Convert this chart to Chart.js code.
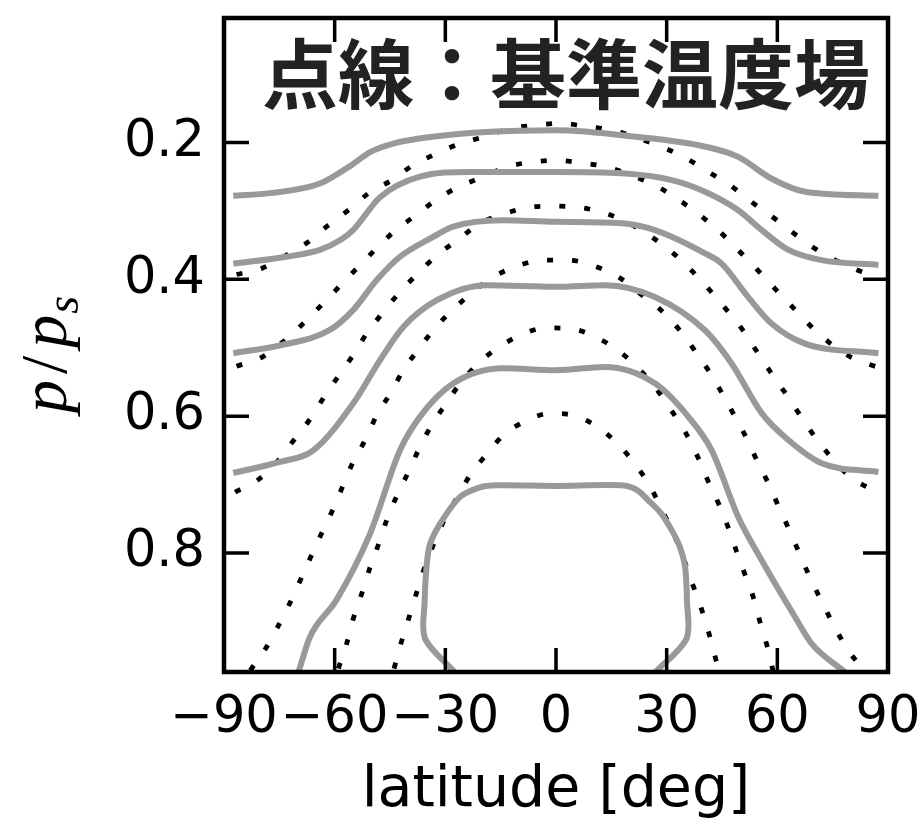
<!DOCTYPE html>
<html>
<head>
<meta charset="utf-8">
<script src="https://cdn.jsdelivr.net/npm/chart.js@4"></script>
<style>
  body { margin: 0; background: #fff; }
</style>
</head>
<body>
<canvas id="contour" width="924" height="824"></canvas>
<script>
// [latitude, p/ps] along each contour
var solid1 = [[-87.5,0.278],[-77.5,0.274],[-64,0.26],[-54.9,0.231],[-50.4,0.214],[-44.1,0.2015],[-32.3,0.191],[-18.9,0.1845],[0,0.182],[22.3,0.192],[40.4,0.206],[49.4,0.221],[58.5,0.253],[67.5,0.272],[87.4,0.278]];
var solid2 = [[-87.5,0.377],[-73.1,0.367],[-64,0.357],[-58.6,0.343],[-55,0.328],[-47.7,0.28],[-36.9,0.25],[-23.3,0.243],[0,0.243],[17.8,0.245],[31.4,0.255],[40.4,0.272],[49.4,0.299],[55.8,0.328],[63,0.357],[72,0.372],[87.4,0.379]];
var solid3 = [[-87.5,0.508],[-74.8,0.4965],[-61.3,0.474],[-55,0.445],[-48.6,0.401],[-42.3,0.367],[-33.3,0.338],[-27.9,0.323],[-14.4,0.3136],[0,0.316],[17.8,0.318],[26.8,0.328],[40.4,0.362],[44.9,0.377],[52.1,0.426],[58.5,0.465],[67.5,0.494],[87.4,0.508]];
var solid4 = [[-87.5,0.683],[-74.8,0.667],[-65.8,0.65],[-55,0.5816],[-47.7,0.518],[-41.4,0.4696],[-32.3,0.4305],[-18.8,0.4086],[0,0.411],[13.3,0.4085],[26.8,0.4257],[40.4,0.4745],[47.6,0.523],[55.8,0.596],[63,0.635],[72,0.669],[87.4,0.6816]];
var solid5 = [[-69.8,0.974],[-66.7,0.9228],[-59.5,0.8686],[-50.4,0.7716],[-42.3,0.6498],[-36.9,0.601],[-27.8,0.552],[-14.3,0.53],[0,0.533],[13.3,0.528],[26.8,0.552],[35.9,0.601],[42.2,0.65],[49.4,0.7474],[55.8,0.811],[64.8,0.8936],[69.3,0.9325],[78.3,0.974]];
var solid6 = [[-27.5,0.974],[-35.5,0.925],[-35.6,0.87],[-35.1,0.8205],[-34.2,0.788],[-31.4,0.757],[-26,0.718],[-20.6,0.704],[-16.1,0.701],[0,0.702],[17.8,0.701],[22,0.708],[25,0.723],[28.5,0.742],[31.4,0.767],[33.5,0.79],[35,0.8205],[35.5,0.87],[35.4,0.925],[27,0.974]];

var dot1 = [[-86.6,0.393],[-79.8,0.384],[-73.5,0.366],[-67.6,0.347],[-62.2,0.323],[-56.3,0.299],[-50.9,0.2746],[-44.5,0.255],[-38.7,0.233],[-32.3,0.216],[-26,0.2015],[-19.7,0.192],[-12.5,0.1795],[-5.2,0.1747],[1.1,0.172],[8.8,0.177],[15.5,0.182],[22.3,0.194],[28.7,0.2064],[35.4,0.2234],[41.3,0.243],[47.2,0.2624],[53,0.2868],[58.9,0.3096],[64.3,0.332],[70.2,0.355],[76.5,0.374],[82.9,0.389],[87.3,0.395]];
var dot2 = [[-86.6,0.527],[-79.8,0.514],[-74.4,0.493],[-69,0.467],[-64,0.44],[-59,0.412],[-54,0.384],[-49.1,0.357],[-44.1,0.331],[-38.7,0.309],[-32.8,0.285],[-26.5,0.265],[-19.7,0.25],[-13.4,0.2357],[-6.2,0.2284],[0,0.226],[7,0.2298],[13.7,0.2357],[21.4,0.25],[27.7,0.265],[33.6,0.285],[39,0.306],[44.5,0.331],[49.9,0.36],[54.7,0.3867],[59.6,0.415],[64.4,0.442],[69.3,0.4696],[74.7,0.495],[80.6,0.5158],[86.9,0.528]];
var dot3 = [[-87,0.711],[-80.7,0.6927],[-75.3,0.6645],[-71.2,0.636],[-66.9,0.606],[-63.1,0.574],[-59,0.5417],[-55,0.511],[-51.3,0.479],[-46.8,0.4477],[-42.3,0.4184],[-37.3,0.3906],[-32.3,0.3648],[-26.5,0.3418],[-20.6,0.318],[-14.3,0.305],[-7.9,0.295],[-0.7,0.293],[6.5,0.295],[13.7,0.304],[19.8,0.318],[25.9,0.338],[31.8,0.362],[36.9,0.388],[41.7,0.416],[46.3,0.445],[50.8,0.4754],[54.7,0.5076],[58.6,0.539],[62.7,0.5705],[66.6,0.602],[70.7,0.634],[74.9,0.662],[80,0.69],[86.3,0.709]];
var dot4 = [[-82.9,0.9715],[-79.1,0.943],[-75.6,0.9096],[-72.3,0.875],[-69.4,0.841],[-66.5,0.806],[-63.5,0.7707],[-60.5,0.7366],[-57.7,0.701],[-55,0.667],[-51.5,0.6327],[-48.6,0.5987],[-44.8,0.566],[-41.4,0.5329],[-37.1,0.501],[-32.8,0.471],[-27.8,0.4437],[-22.5,0.418],[-17,0.3965],[-10.7,0.381],[-3.4,0.372],[3.3,0.372],[10.6,0.381],[16.9,0.3965],[22.8,0.421],[28.2,0.4437],[33,0.471],[37.2,0.501],[41.3,0.5329],[44.9,0.5655],[48.3,0.5987],[51.7,0.6327],[54.4,0.664],[57.8,0.701],[60.7,0.7366],[63.6,0.7707],[66.4,0.806],[69.3,0.841],[72.4,0.875],[75.6,0.909],[79.2,0.9423],[83.3,0.97]];
var dot5 = [[-59,0.969],[-56.8,0.9335],[-55,0.8969],[-52.7,0.86],[-50.6,0.824],[-48.2,0.7887],[-45.9,0.752],[-43.2,0.717],[-40,0.6816],[-37.1,0.6474],[-33.7,0.613],[-29.8,0.5816],[-26,0.5523],[-21.1,0.523],[-15.6,0.4997],[-9.3,0.4807],[-2.5,0.471],[3.8,0.472],[11,0.485],[17.3,0.506],[22.3,0.53],[27.3,0.561],[31.2,0.591],[35,0.623],[38.1,0.6557],[40.9,0.691],[44,0.727],[46.7,0.763],[49,0.7985],[51.4,0.834],[53.8,0.87],[55.6,0.907],[57.6,0.943],[58.8,0.972]];
var dot6 = [[-43.9,0.969],[-42.1,0.9335],[-40,0.897],[-37.9,0.86],[-35.8,0.8243],[-33.3,0.7887],[-30.4,0.753],[-26.9,0.7196],[-23.3,0.6864],[-18.8,0.6557],[-14.3,0.628],[-8.4,0.6075],[-1.6,0.596],[5.2,0.5997],[11.5,0.6167],[16.9,0.6415],[21.4,0.67],[25.5,0.7025],[28.7,0.7366],[31.8,0.771],[34.5,0.8067],[36.8,0.8424],[39.2,0.878],[41.3,0.9145],[43.1,0.9507],[44.1,0.972]];

var solidLines = [solid1, solid2, solid3, solid4, solid5, solid6];
var dottedLines = [dot1, dot2, dot3, dot4, dot5, dot6];

var xTicks = [-90, -60, -30, 0, 30, 60, 90];
var yTicks = [0.2, 0.4, 0.6, 0.8];
var chartTitle = '点線：基準温度場';
var xTitle = 'latitude [deg]';

function toPoints(arr) {
  return arr.map(function (d) { return { x: d[0], y: d[1] }; });
}

var datasets = [];
solidLines.forEach(function (line, i) {
  var closed = (i === 5); // innermost contour folds back, not a function of latitude
  datasets.push({
    data: toPoints(line),
    showLine: true,
    borderColor: '#999999',
    borderWidth: 6,
    pointRadius: 0,
    tension: closed ? 0.3 : 0,
    cubicInterpolationMode: closed ? 'default' : 'monotone',
    clip: 0
  });
});
dottedLines.forEach(function (line) {
  datasets.push({
    data: toPoints(line),
    showLine: true,
    borderColor: '#000000',
    borderWidth: 4.8,
    borderDash: [6, 19],
    borderCapStyle: 'butt',
    pointRadius: 0,
    cubicInterpolationMode: 'monotone',
    clip: 0
  });
});

// frame + inward ticks on all four sides, title and y label
var decorations = {
  id: 'decorations',
  afterDatasetsDraw: function (chart) {
    var ctx = chart.ctx;
    var a = chart.chartArea;
    var xs = chart.scales.x, ys = chart.scales.y;
    ctx.save();
    ctx.strokeStyle = '#000';
    ctx.lineWidth = 3.5;
    ctx.beginPath();
    xs.ticks.forEach(function (t) {
      var px = xs.getPixelForValue(t.value);
      ctx.moveTo(px, a.bottom); ctx.lineTo(px, a.bottom - 24);
      ctx.moveTo(px, a.top); ctx.lineTo(px, a.top + 24);
    });
    ys.ticks.forEach(function (t) {
      var py = ys.getPixelForValue(t.value);
      ctx.moveTo(a.left, py); ctx.lineTo(a.left + 25, py);
      ctx.moveTo(a.right, py); ctx.lineTo(a.right - 25, py);
    });
    ctx.stroke();
    ctx.lineWidth = 4.5;
    ctx.strokeRect(a.left, a.top, a.right - a.left, a.bottom - a.top);

    // title inside the plot
    ctx.fillStyle = '#222';
    ctx.font = 'bold 76px "Noto Sans CJK JP"';
    ctx.textAlign = 'center';
    ctx.textBaseline = 'alphabetic';
    ctx.fillText(chartTitle, 566, 103);

    // y label p/p_s, rotated
    ctx.translate(66, 413);
    ctx.rotate(-Math.PI / 2);
    ctx.fillStyle = '#000';
    ctx.textAlign = 'left';
    ctx.font = 'italic 66px "Liberation Serif"';
    var x = 0;
    ctx.fillText('p', x, 0); x += ctx.measureText('p').width + 6;
    ctx.font = '66px "Liberation Serif"';
    ctx.fillText('/', x, 0); x += ctx.measureText('/').width + 8;
    ctx.font = 'italic 66px "Liberation Serif"';
    ctx.fillText('p', x, 0); x += ctx.measureText('p').width + 1;
    ctx.font = 'italic 46px "Liberation Serif"';
    ctx.fillText('s', x, 12);
    ctx.restore();
  }
};

var ctx = document.getElementById('contour').getContext('2d');
var myChart = new Chart(ctx, {
  type: 'scatter',
  data: { datasets: datasets },
  options: {
    responsive: false,
    animation: false,
    devicePixelRatio: 1,
    layout: { padding: { top: 18, right: 36, left: 0, bottom: 0 } },
    plugins: {
      legend: { display: false },
      tooltip: { enabled: false }
    },
    scales: {
      x: {
        type: 'linear',
        min: -90,
        max: 90,
        afterBuildTicks: function (scale) {
          scale.ticks = xTicks.map(function (v) { return { value: v }; });
        },
        afterFit: function (scale) {
          scale.height = 152;
          scale.paddingLeft = 0; scale.paddingRight = 0;
          scale.paddingTop = 0; scale.paddingBottom = 0;
        },
        grid: { display: false, drawTicks: false },
        border: { display: false },
        ticks: {
          padding: 16,
          maxRotation: 0,
          autoSkip: false,
          color: '#000',
          font: { family: 'DejaVu Sans', size: 51 },
          callback: function (v) { return v < 0 ? '\u2212' + Math.abs(v) : String(v); }
        },
        title: {
          display: true,
          text: xTitle,
          color: '#000',
          font: { family: 'DejaVu Sans', size: 57, lineHeight: 1 },
          padding: { top: 0, bottom: 4 }
        }
      },
      y: {
        type: 'linear',
        reverse: true,
        min: 0.018,
        max: 0.974,
        afterBuildTicks: function (scale) {
          scale.ticks = yTicks.map(function (v) { return { value: v }; });
        },
        afterFit: function (scale) {
          scale.width = 224;
          scale.paddingLeft = 0; scale.paddingRight = 0;
          scale.paddingTop = 0; scale.paddingBottom = 0;
        },
        grid: { display: false, drawTicks: false },
        border: { display: false },
        ticks: {
          padding: 19,
          color: '#000',
          font: { family: 'DejaVu Sans', size: 51 },
          callback: function (v) { return v.toFixed(1); }
        }
      }
    }
  },
  plugins: [decorations]
});
</script>
</body>
</html>
